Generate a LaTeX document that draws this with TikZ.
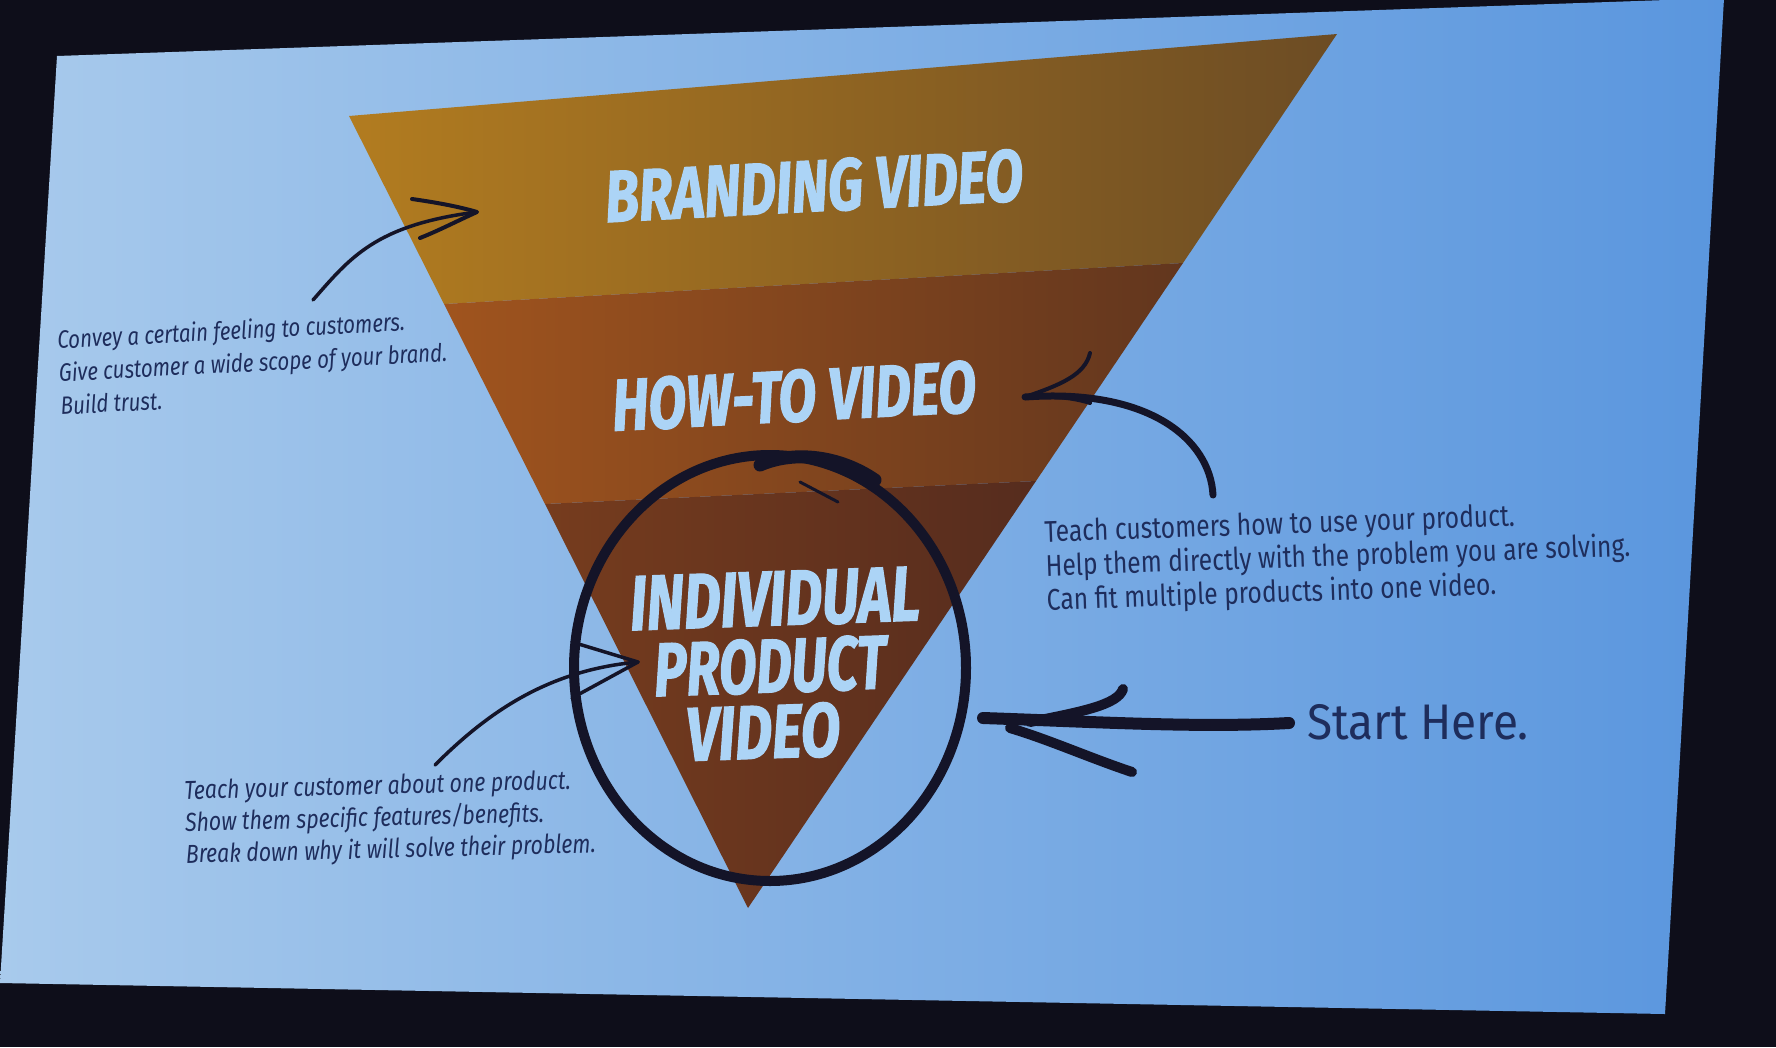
\documentclass[tikz,border=0pt]{standalone}
\usepackage{fontspec}
\usepackage{graphicx}
\newfontfamily\bigfont{Fira Sans}[FakeStretch=0.8, FakeBold=1.5]
\newfontfamily\bodyfont{Fira Sans}[FakeStretch=0.82]
\newfontfamily\herefont{Fira Sans}[FakeStretch=0.92]
\definecolor{bgdark}{RGB}{14,14,26}
\definecolor{slideL}{RGB}{168,202,236}
\definecolor{slideR}{RGB}{90,150,222}
\definecolor{brandL}{RGB}{178,124,32}
\definecolor{brandR}{RGB}{108,76,36}
\definecolor{howL}{RGB}{160,84,30}
\definecolor{howR}{RGB}{98,54,30}
\definecolor{indL}{RGB}{118,60,30}
\definecolor{indR}{RGB}{86,44,30}
\definecolor{ink}{RGB}{20,20,40}
\definecolor{navytext}{RGB}{30,45,92}
\definecolor{labelblue}{RGB}{172,212,246}
\tikzset{
  biglabel/.style={text=labelblue, font=\bigfont\bfseries\itshape, inner sep=0pt},
  para/.style={text=navytext, align=left, inner sep=0pt},
  inkline/.style={draw=ink, line cap=round, line join=round},
}
\begin{document}
\begin{tikzpicture}[x=1pt,y=-1pt]
\useasboundingbox (0,0) rectangle (1776,1047);
\fill[bgdark] (0,0) rectangle (1776,1047);
% slide
\shade[left color=slideL, right color=slideR] (57,56) -- (1724,-2) -- (1665,1014) -- (0,983) -- cycle;
% funnel bands
\coordinate (A) at (349,116);
\coordinate (B) at (1337,34);
\coordinate (C) at (748,908);
\coordinate (L1) at (444,304);
\coordinate (R1) at (1183,263);
\coordinate (L2) at (545,504);
\coordinate (R2) at (1036,481);
\shade[left color=brandL, right color=brandR] (A) -- (B) -- (R1) -- (L1) -- cycle;
\shade[left color=howL, right color=howR] (L1) -- (R1) -- (R2) -- (L2) -- cycle;
\shade[left color=indL, right color=indR] (L2) -- (R2) -- (C) -- cycle;
% labels
\node[biglabel, rotate=3] (brand) at (814,186) {\resizebox{418pt}{52pt}{BRANDING VIDEO}};
\node[biglabel, rotate=3] (howto) at (794,396) {\resizebox{364pt}{52pt}{HOW-TO VIDEO}};
\node[biglabel, rotate=2] (indiv) at (775,599) {\resizebox{290pt}{54pt}{INDIVIDUAL}};
\node[biglabel, rotate=2] (prod) at (770,666) {\resizebox{232pt}{54pt}{PRODUCT}};
\node[biglabel, rotate=2] (vid) at (763,732) {\resizebox{154pt}{54pt}{VIDEO}};
% paragraphs
\node[para, rotate=3, font=\bodyfont\itshape\fontsize{25}{33}\selectfont] (p1) at (253,362)
  {Convey a certain feeling to customers.\\Give customer a wide scope of your brand.\\Build trust.};
\node[para, rotate=2, font=\bodyfont\fontsize{30}{34}\selectfont] (p2) at (1338,558)
  {Teach customers how to use your product.\\Help them directly with the problem you are solving.\\Can fit multiple products into one video.};
\node[para, rotate=1.5, font=\bodyfont\itshape\fontsize{26}{32}\selectfont] (p3) at (390,819)
  {Teach your customer about one product.\\Show them specific features/benefits.\\Break down why it will solve their problem.};
\node[para, font=\herefont\fontsize{50}{54}\selectfont] (sh) at (1418,722) {Start Here.};
% branding arrow
\coordinate (b1) at (313,300);
\coordinate (b2) at (477,212);
\draw[inkline, line width=3.5] (b1) .. controls (350,258) and (375,225) .. (b2);
\draw[inkline, line width=4] (412,199) .. controls (440,203) and (460,207) .. (b2) .. controls (455,222) and (440,230) .. (420,238);
% how-to arrow
\coordinate (h1) at (1213,495);
\coordinate (h2) at (1025,397);
\draw[inkline, line width=7] (h1) .. controls (1210,440) and (1150,388) .. (h2);
\draw[inkline, line width=4] (1090,353) .. controls (1085,375) and (1060,385) .. (h2) .. controls (1050,395) and (1075,398) .. (1090,403);
% individual arrow
\coordinate (i1) at (435,765);
\coordinate (i2) at (638,662);
\draw[inkline, line width=3.5] (i1) .. controls (490,710) and (550,670) .. (i2);
\draw[inkline, line width=3.5] (572,642) -- (i2) -- (572,698);
% circle
\coordinate (cc) at (770,668);
\draw[inkline, line width=10] (cc) ellipse [x radius=196, y radius=213];
\draw[inkline, line width=13] (760,465) .. controls (795,450) and (840,456) .. (875,480);
\draw[inkline, line width=3] (800,482) -- (838,502);
% start here arrow
\coordinate (s1) at (1289,723);
\coordinate (s2) at (983,718);
\draw[inkline, line width=12] (s1) .. controls (1200,728) and (1100,722) .. (s2);
\draw[inkline, line width=10] (1123,689) .. controls (1118,705) and (1080,712) .. (1030,722);
\draw[inkline, line width=10] (1132,772) .. controls (1090,758) and (1050,740) .. (1010,728);
\end{tikzpicture}
\end{document}
